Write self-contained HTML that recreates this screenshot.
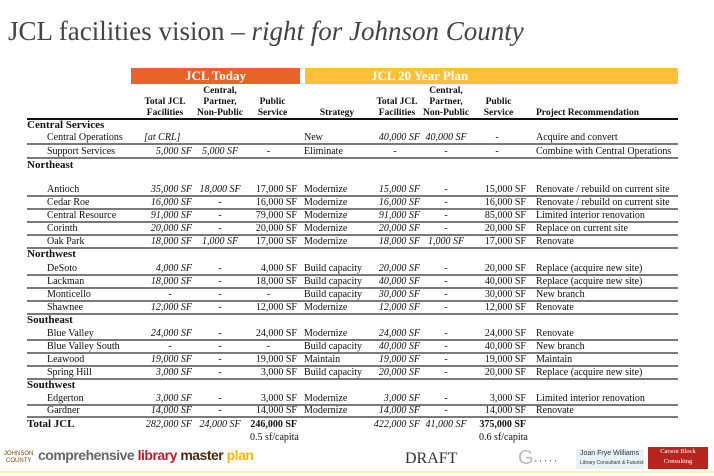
<!DOCTYPE html>
<html><head><meta charset="utf-8"><style>
body{margin:0;width:714px;height:476px;background:#fff;position:relative;overflow:hidden;font-family:"Liberation Serif",serif;color:#111}
.t{position:absolute;left:8px;top:16px;font-size:27px;color:#444;white-space:nowrap}
.bar{position:absolute;top:68px;height:16px;color:#fff;font-weight:bold;font-size:13px;line-height:16px}
.h{position:absolute;font-weight:bold;font-size:9.5px;line-height:11px;text-align:center;white-space:nowrap}
.r{position:absolute;left:0;width:714px;height:13px;font-size:10px;line-height:13px;white-space:nowrap}
.r.l::after{content:"";position:absolute;left:27px;width:651px;top:12px;height:2px;background:#7a7a7a}
.r span{position:absolute}
.n{left:47px}.sec{left:27px;font-weight:bold;font-size:11px}
.a{left:120px;width:72px;text-align:right;font-style:italic}
.b{left:192px;width:56px;text-align:center;font-style:italic}
.c{left:240px;width:57px;text-align:right}
.s{left:304px}
.d{left:350px;width:70px;text-align:right;font-style:italic}
.e{left:418px;width:56px;text-align:center;font-style:italic}
.f{left:468px;width:58px;text-align:right}
.g{left:536px}
</style></head><body>
<div class="t">JCL facilities vision – <i>right for Johnson County</i></div>
<div class="bar" style="left:131px;width:169px;background:#e8622a;text-align:center">JCL Today</div>
<div class="bar" style="left:305px;width:373px;background:#fdc038;padding-left:66px;box-sizing:border-box">JCL 20 Year Plan</div>
<div class="h" style="left:140px;width:50px;top:97px">Total JCL<br>Facilities</div>
<div class="h" style="left:195px;width:50px;top:86px">Central,<br>Partner,<br>Non-Public</div>
<div class="h" style="left:250px;width:45px;top:97px">Public<br>Service</div>
<div class="h" style="left:312px;width:50px;top:108px">Strategy</div>
<div class="h" style="left:372px;width:50px;top:97px">Total JCL<br>Facilities</div>
<div class="h" style="left:421px;width:50px;top:86px">Central,<br>Partner,<br>Non-Public</div>
<div class="h" style="left:476px;width:45px;top:97px">Public<br>Service</div>
<div class="h" style="left:536px;top:108px;text-align:left">Project Recommendation</div>
<div style="position:absolute;left:27px;width:651px;top:118px;height:2px;background:#111"></div>

<div class="r" style="top:119px"><span class="sec">Central Services</span></div>
<div class="r l" style="top:131px"><span class="n">Central Operations</span><span class="a" style="text-align:left;left:144px">[at CRL]</span><span class="s">New</span><span class="d">40,000 SF</span><span class="e">40,000 SF</span><span class="f" style="text-align:center">-</span><span class="g">Acquire and convert</span></div>
<div class="r l" style="top:145px"><span class="n">Support Services</span><span class="a">5,000 SF</span><span class="b">5,000 SF</span><span class="c" style="text-align:center">-</span><span class="s">Eliminate</span><span class="d" style="text-align:center;left:375px;width:40px">-</span><span class="e">-</span><span class="f" style="text-align:center">-</span><span class="g">Combine with Central Operations</span></div>
<div class="r" style="top:159px"><span class="sec">Northeast</span></div>
<div class="r l" style="top:183px"><span class="n">Antioch</span><span class="a">35,000 SF</span><span class="b">18,000 SF</span><span class="c">17,000 SF</span><span class="s">Modernize</span><span class="d">15,000 SF</span><span class="e">-</span><span class="f">15,000 SF</span><span class="g">Renovate / rebuild on current site</span></div>
<div class="r l" style="top:196px"><span class="n">Cedar Roe</span><span class="a">16,000 SF</span><span class="b">-</span><span class="c">16,000 SF</span><span class="s">Modernize</span><span class="d">16,000 SF</span><span class="e">-</span><span class="f">16,000 SF</span><span class="g">Renovate / rebuild on current site</span></div>
<div class="r l" style="top:209px"><span class="n">Central Resource</span><span class="a">91,000 SF</span><span class="b">-</span><span class="c">79,000 SF</span><span class="s">Modernize</span><span class="d">91,000 SF</span><span class="e">-</span><span class="f">85,000 SF</span><span class="g">Limited interior renovation</span></div>
<div class="r l" style="top:222px"><span class="n">Corinth</span><span class="a">20,000 SF</span><span class="b">-</span><span class="c">20,000 SF</span><span class="s">Modernize</span><span class="d">20,000 SF</span><span class="e">-</span><span class="f">20,000 SF</span><span class="g">Replace on current site</span></div>
<div class="r l" style="top:235px"><span class="n">Oak Park</span><span class="a">18,000 SF</span><span class="b">1,000 SF</span><span class="c">17,000 SF</span><span class="s">Modernize</span><span class="d">18,000 SF</span><span class="e">1,000 SF</span><span class="f">17,000 SF</span><span class="g">Renovate</span></div>
<div class="r" style="top:248px"><span class="sec">Northwest</span></div>
<div class="r l" style="top:262px"><span class="n">DeSoto</span><span class="a">4,000 SF</span><span class="b">-</span><span class="c">4,000 SF</span><span class="s">Build capacity</span><span class="d">20,000 SF</span><span class="e">-</span><span class="f">20,000 SF</span><span class="g">Replace (acquire new site)</span></div>
<div class="r l" style="top:275px"><span class="n">Lackman</span><span class="a">18,000 SF</span><span class="b">-</span><span class="c">18,000 SF</span><span class="s">Build capacity</span><span class="d">40,000 SF</span><span class="e">-</span><span class="f">40,000 SF</span><span class="g">Replace (acquire new site)</span></div>
<div class="r l" style="top:288px"><span class="n">Monticello</span><span class="a" style="text-align:center;left:150px;width:40px">-</span><span class="b">-</span><span class="c" style="text-align:center">-</span><span class="s">Build capacity</span><span class="d">30,000 SF</span><span class="e">-</span><span class="f">30,000 SF</span><span class="g">New branch</span></div>
<div class="r l" style="top:301px"><span class="n">Shawnee</span><span class="a">12,000 SF</span><span class="b">-</span><span class="c">12,000 SF</span><span class="s">Modernize</span><span class="d">12,000 SF</span><span class="e">-</span><span class="f">12,000 SF</span><span class="g">Renovate</span></div>
<div class="r" style="top:314px"><span class="sec">Southeast</span></div>
<div class="r l" style="top:327px"><span class="n">Blue Valley</span><span class="a">24,000 SF</span><span class="b">-</span><span class="c">24,000 SF</span><span class="s">Modernize</span><span class="d">24,000 SF</span><span class="e">-</span><span class="f">24,000 SF</span><span class="g">Renovate</span></div>
<div class="r l" style="top:340px"><span class="n">Blue Valley South</span><span class="a" style="text-align:center;left:150px;width:40px">-</span><span class="b">-</span><span class="c" style="text-align:center">-</span><span class="s">Build capacity</span><span class="d">40,000 SF</span><span class="e">-</span><span class="f">40,000 SF</span><span class="g">New branch</span></div>
<div class="r l" style="top:353px"><span class="n">Leawood</span><span class="a">19,000 SF</span><span class="b">-</span><span class="c">19,000 SF</span><span class="s">Maintain</span><span class="d">19,000 SF</span><span class="e">-</span><span class="f">19,000 SF</span><span class="g">Maintain</span></div>
<div class="r l" style="top:366px"><span class="n">Spring Hill</span><span class="a">3,000 SF</span><span class="b">-</span><span class="c">3,000 SF</span><span class="s">Build capacity</span><span class="d">20,000 SF</span><span class="e">-</span><span class="f">20,000 SF</span><span class="g">Replace (acquire new site)</span></div>
<div class="r" style="top:379px"><span class="sec">Southwest</span></div>
<div class="r l" style="top:392px"><span class="n">Edgerton</span><span class="a">3,000 SF</span><span class="b">-</span><span class="c">3,000 SF</span><span class="s">Modernize</span><span class="d">3,000 SF</span><span class="e">-</span><span class="f">3,000 SF</span><span class="g">Limited interior renovation</span></div>
<div class="r l" style="top:404px"><span class="n">Gardner</span><span class="a">14,000 SF</span><span class="b">-</span><span class="c">14,000 SF</span><span class="s">Modernize</span><span class="d">14,000 SF</span><span class="e">-</span><span class="f">14,000 SF</span><span class="g">Renovate</span></div>
<div class="r" style="top:418px"><span class="sec">Total JCL</span><span class="a">282,000 SF</span><span class="b">24,000 SF</span><span class="c" style="font-weight:bold">246,000 SF</span><span class="d">422,000 SF</span><span class="e">41,000 SF</span><span class="f" style="font-weight:bold">375,000 SF</span></div>
<div class="r" style="top:431px"><span class="c" style="text-align:left;left:250px">0.5 sf/capita</span><span class="f" style="text-align:left;left:479px">0.6 sf/capita</span></div>

<div style="position:absolute;left:4px;top:451px;font-family:'Liberation Sans',sans-serif;font-size:6px;line-height:7px;color:#7a4a10;text-align:center">JOHNSON<br>COUNTY</div>
<div style="position:absolute;left:38px;top:447px;font-family:'Liberation Sans',sans-serif;font-weight:bold;font-size:14px;letter-spacing:-0.5px;white-space:nowrap"><span style="color:#666">comprehensive </span><span style="color:#b3202a">library </span><span style="color:#4a2a12">master </span><span style="color:#f6b800">plan</span></div>
<div style="position:absolute;left:405px;top:450px;font-size:16px;color:#333">DRAFT</div>
<div style="position:absolute;left:518px;top:447px;font-size:20px;color:#bbb;font-family:'Liberation Sans',sans-serif">G<span style="font-size:12px;color:#666;letter-spacing:1px">·····</span></div>
<div style="position:absolute;left:576px;top:449px;width:68px;height:20px;background:#e8f3f8;font-family:'Liberation Sans',sans-serif;font-size:7px;line-height:9px;color:#334;padding-left:4px;box-sizing:border-box">Joan Frye Williams<br><span style="font-size:5px">Library Consultant &amp; Futurist</span></div>
<div style="position:absolute;left:648px;top:447px;width:60px;height:22px;background:#b8251f;color:#fff;font-size:6.5px;line-height:10px;text-align:center">Carson Block Consulting</div>
<div style="position:absolute;left:0;top:471px;width:714px;height:2px;background:#fbeeb8"></div>
</body></html>
